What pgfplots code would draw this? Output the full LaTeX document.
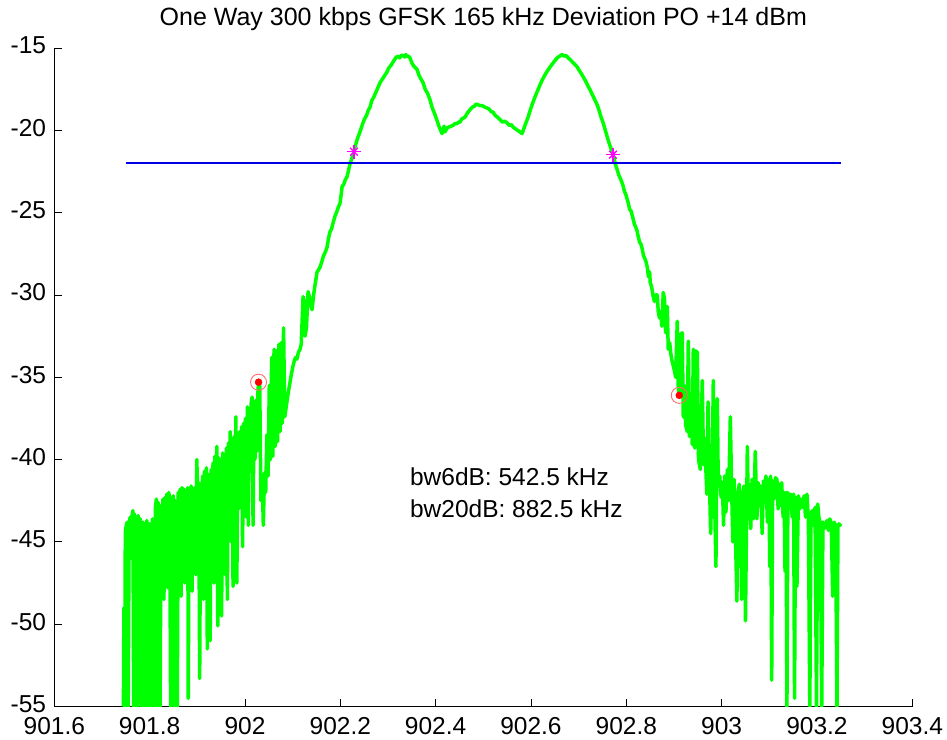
\documentclass[border=0pt]{standalone}
\usepackage{fontspec}
\setmainfont{Liberation Sans}
\usepackage{pgfplots}
\pgfplotsset{compat=1.18}
\definecolor{mgreen}{RGB}{0,255,0}
\definecolor{mblue}{RGB}{0,0,230}
\definecolor{mmag}{RGB}{255,0,255}
\definecolor{mred}{RGB}{255,0,0}
\definecolor{mlred}{RGB}{255,110,110}
\newcommand{\lbl}{\fontsize{24.5bp}{29bp}\selectfont}
\begin{document}
\lbl
\begin{tikzpicture}
\begin{axis}[
  scale only axis, width=858bp, height=658.5bp,
  xmin=901.6, xmax=903.4, ymin=-55, ymax=-15,
  axis x line*=bottom, axis y line*=left,
  axis line style={black, line width=0.8bp},
  tick style={black, line width=0.8bp},
  tick align=inside, major tick length=8bp,
  xtick={901.6,901.8,902,902.2,902.4,902.6,902.8,903,903.2,903.4},
  xticklabels={901.6,901.8,902,902.2,902.4,902.6,902.8,903,903.2,903.4},
  ytick={-55,-50,-45,-40,-35,-30,-25,-20,-15},
  yticklabels={-55,-50,-45,-40,-35,-30,-25,-20,-15},
  ticklabel style={font=\lbl},
  xticklabel style={inner sep=0pt, yshift=-11bp},
  yticklabel style={inner sep=0pt, xshift=-8bp, yshift=2.5bp},
  title={One Way 300 kbps GFSK 165 kHz Deviation PO +14 dBm},
  title style={at={(0.5,1)}, anchor=base, yshift=17bp, inner sep=0pt, font=\fontsize{25bp}{29bp}\selectfont},
]
\addplot[mgreen, line width=3.5bp, line join=round] coordinates {
(901.745,-55) (901.746,-49.0) (901.7475,-55) (901.749,-44.4) (901.751,-44.0) (901.753,-43.8) (901.755,-55) (901.757,-44.2)
(901.759,-43.5) (901.761,-46.0) (901.763,-43.4) (901.765,-43.1) (901.7665,-55) (901.768,-43.3) (901.770,-44.8) (901.772,-43.5)
(901.774,-55) (901.776,-43.4) (901.778,-47.5) (901.780,-43.6) (901.782,-55) (901.784,-45.0) (901.786,-43.8) (901.788,-55)
(901.790,-44.0) (901.792,-47.0) (901.794,-43.7) (901.796,-55) (901.798,-44.5) (901.800,-43.9) (901.802,-55) (901.804,-45.5)
(901.806,-43.6) (901.808,-49.0) (901.810,-55) (901.812,-43.0) (901.814,-42.4) (901.816,-55) (901.818,-42.6) (901.820,-47.0)
(901.822,-55) (901.824,-42.8) (901.826,-45.5) (901.828,-42.4) (901.830,-48.5) (901.832,-42.3) (901.834,-44.0) (901.836,-42.1)
(901.838,-47.8) (901.840,-42.0) (901.842,-42.3) (901.844,-55) (901.846,-43.0) (901.848,-48.0) (901.850,-42.2) (901.852,-55)
(901.854,-42.5) (901.856,-47.0) (901.858,-55) (901.860,-42.0) (901.862,-44.5) (901.864,-41.8) (901.866,-48.3) (901.868,-41.7)
(901.870,-43.5) (901.872,-41.8) (901.874,-47.5) (901.876,-41.9) (901.878,-44.0) (901.880,-41.7) (901.881,-54.5) (901.883,-42.3)
(901.885,-46.5) (901.887,-41.6) (901.889,-48.0) (901.891,-41.8) (901.893,-44.5) (901.895,-41.7) (901.897,-47.0) (901.899,-40.0)
(901.901,-42.5) (901.903,-41.4) (901.905,-53.3) (901.907,-41.6) (901.909,-46.0) (901.911,-41.0) (901.913,-48.5) (901.915,-40.7)
(901.917,-43.5) (901.919,-40.5) (901.921,-51.5) (901.923,-40.9) (901.925,-45.0) (901.927,-51.0) (901.929,-40.6) (901.931,-44.0)
(901.933,-40.2) (901.935,-47.5) (901.937,-39.8) (901.939,-42.5) (901.941,-39.2) (901.943,-50.1) (901.945,-39.9) (901.947,-44.5)
(901.949,-40.0) (901.951,-49.5) (901.953,-39.6) (901.955,-43.5) (901.957,-40.1) (901.959,-47.0) (901.961,-39.3) (901.963,-48.5)
(901.965,-39.0) (901.967,-42.5) (901.969,-38.3) (901.971,-45.0) (901.973,-39.0) (901.975,-47.7) (901.977,-38.6) (901.979,-42.0)
(901.981,-37.4) (901.983,-47.5) (901.985,-38.5) (901.987,-43.0) (901.989,-38.3) (901.991,-41.5) (901.993,-38.0) (901.995,-45.3)
(901.997,-37.8) (901.999,-41.0) (902.001,-37.5) (902.003,-43.5) (902.005,-36.8) (902.007,-44.0) (902.009,-37.2) (902.011,-40.5)
(902.013,-36.6) (902.015,-36.2) (902.017,-44.0) (902.019,-37.0) (902.021,-40.0) (902.023,-36.4) (902.025,-39.5) (902.027,-36.0)
(902.0285,-35.3) (902.031,-35.5) (902.0335,-42.5) (902.036,-41.0) (902.0385,-44.0) (902.041,-40.8) (902.0435,-42.0) (902.046,-38.5)
(902.0485,-41.0) (902.051,-35.5) (902.0535,-40.0) (902.056,-33.8) (902.0585,-39.8) (902.061,-33.3) (902.0635,-39.2) (902.066,-33.4)
(902.0685,-38.9) (902.071,-33.0) (902.0735,-38.3) (902.076,-32.9) (902.0785,-37.8) (902.081,-32.0) (902.0835,-37.4) (902.086,-36.9)
(902.0885,-36.4) (902.0910,-35.9) (902.0946,-35.3) (902.0975,-34.8) (902.1009,-34.3) (902.1035,-34.0) (902.106,-33.8) (902.109,-33.9)
(902.112,-33.5) (902.1156,-33.3) (902.118,-33.0) (902.1219,-30.1) (902.124,-30.4) (902.1261,-32.5) (902.129,-32.0) (902.1324,-29.8)
(902.135,-30.1) (902.138,-30.6) (902.1408,-30.9) (902.144,-30.0) (902.147,-29.4) (902.1513,-28.6) (902.154,-28.5) (902.1576,-28.3)
(902.161,-28.0) (902.165,-27.6) (902.1685,-27.4) (902.1723,-27.1) (902.175,-26.6) (902.178,-26.2) (902.1815,-26.0) (902.1851,-25.6)
(902.189,-25.2) (902.192,-25.0) (902.1955,-24.7) (902.1997,-24.4) (902.2039,-23.4) (902.207,-23.3) (902.2105,-23.0) (902.2144,-22.8)
(902.2175,-22.4) (902.2207,-22.0) (902.2245,-21.7) (902.2287,-21.3) (902.232,-20.9) (902.236,-20.5) (902.240,-20.2) (902.2435,-19.9)
(902.2476,-19.55) (902.251,-19.3) (902.255,-19.1) (902.2585,-18.8) (902.2623,-18.6) (902.266,-18.2) (902.270,-18.0) (902.2745,-17.7)
(902.2791,-17.4) (902.2835,-17.1) (902.288,-16.9) (902.2925,-16.7) (902.2980,-16.45) (902.302,-16.2) (902.3065,-16.05) (902.3106,-15.85)
(902.314,-15.7) (902.3175,-15.55) (902.3211,-15.5) (902.3245,-15.6) (902.328,-15.45) (902.3315,-15.45) (902.335,-15.55) (902.3375,-15.4)
(902.3399,-15.5) (902.343,-15.5) (902.3462,-15.6) (902.350,-15.9) (902.354,-16.1) (902.3575,-16.2) (902.3609,-16.3) (902.365,-16.65)
(902.3695,-16.9) (902.3735,-17.1) (902.378,-17.5) (902.383,-17.75) (902.3882,-18.15) (902.3925,-18.6) (902.398,-19.0) (902.4029,-19.4)
(902.4075,-19.8) (902.4134,-20.2) (902.4155,-20.0) (902.4176,-19.75) (902.4197,-20.1) (902.4239,-19.85) (902.428,-19.8) (902.4325,-19.75)
(902.4365,-19.7) (902.440,-19.6) (902.4445,-19.6) (902.448,-19.5) (902.4512,-19.5) (902.455,-19.3) (902.4585,-19.25) (902.4617,-19.2)
(902.4665,-18.95) (902.4722,-18.75) (902.4765,-18.6) (902.481,-18.55) (902.485,-18.4) (902.4890,-18.45) (902.4935,-18.5) (902.498,-18.5)
(902.5035,-18.6) (902.5079,-18.65) (902.512,-18.7) (902.516,-18.85) (902.5205,-18.9) (902.525,-19.1) (902.530,-19.2) (902.5352,-19.35)
(902.540,-19.5) (902.545,-19.45) (902.5499,-19.55) (902.5545,-19.7) (902.5585,-19.65) (902.5625,-19.8) (902.567,-19.9) (902.572,-20.0)
(902.577,-20.1) (902.5814,-20.2) (902.5875,-19.7) (902.5940,-19.2) (902.601,-18.55) (902.6087,-17.95) (902.616,-17.45) (902.6234,-16.95)
(902.632,-16.5) (902.6402,-16.15) (902.648,-15.85) (902.6549,-15.6) (902.660,-15.5) (902.6654,-15.4) (902.6695,-15.5) (902.673,-15.45)
(902.6780,-15.6) (902.682,-15.7) (902.687,-15.85) (902.692,-16.0) (902.6969,-16.15) (902.7010,-16.35) (902.7055,-16.55) (902.7095,-16.75)
(902.7145,-17.0) (902.7195,-17.3) (902.7242,-17.55) (902.729,-17.85) (902.734,-18.15) (902.7389,-18.45) (902.743,-18.8) (902.747,-19.2)
(902.7515,-19.55) (902.755,-19.9) (902.7585,-20.25) (902.7620,-20.6) (902.7655,-20.9) (902.769,-21.2) (902.7725,-21.5) (902.775,-21.8)
(902.7775,-22.1) (902.7809,-22.4) (902.784,-22.7) (902.787,-22.9) (902.790,-23.1) (902.7935,-23.4) (902.796,-23.7) (902.799,-23.9)
(902.801,-24.1) (902.804,-24.4) (902.807,-24.8) (902.810,-24.9) (902.8145,-25.4) (902.817,-25.7) (902.820,-25.9) (902.8225,-26.1)
(902.825,-26.45) (902.828,-26.8) (902.8305,-26.9) (902.8334,-27.2) (902.836,-27.6) (902.839,-27.8) (902.8415,-28.0) (902.8439,-28.3)
(902.8465,-28.9) (902.849,-28.6) (902.8502,-29.25) (902.853,-29.5) (902.8565,-30.1) (902.859,-30.4) (902.8615,-30.0) (902.8649,-30.0)
(902.867,-31.0) (902.8695,-31.4) (902.872,-31.0) (902.8745,-31.9) (902.8775,-29.85) (902.880,-30.2) (902.8825,-32.3) (902.8859,-30.7)
(902.888,-33.3) (902.891,-32.9) (902.8935,-33.6) (902.896,-34.0) (902.8985,-34.3) (902.901,-34.6) (902.9035,-35.0) (902.9069,-31.6)
(902.909,-35.6) (902.9111,-36.1) (902.9135,-32.4) (902.9174,-32.3) (902.9195,-37.4) (902.922,-35.5) (902.9245,-37.9) (902.9279,-38.3)
(902.930,-32.8) (902.9325,-38.6) (902.935,-36.0) (902.9384,-39.1) (902.9405,-33.3) (902.9435,-39.3) (902.946,-33.4) (902.949,-33.5)
(902.9515,-40.0) (902.9552,-40.6) (902.9594,-35.2) (902.962,-40.3) (902.9645,-38.7) (902.9661,-40.0) (902.969,-42.1) (902.9715,-36.5)
(902.974,-40.8) (902.977,-44.5) (902.9808,-39.4) (902.9825,-35.2) (902.985,-42.0) (902.988,-46.5) (902.9909,-36.3) (902.993,-41.6)
(902.996,-41.0) (902.999,-42.3) (903.0015,-41.4) (903.004,-44.0) (903.0065,-41.0) (903.009,-43.2) (903.012,-40.6) (903.0145,-42.5)
(903.0182,-37.4) (903.021,-41.8) (903.0235,-45.0) (903.026,-41.2) (903.029,-44.5) (903.032,-48.6) (903.0345,-42.0) (903.037,-41.5)
(903.040,-44.0) (903.042,-48.5) (903.0445,-42.2) (903.047,-41.6) (903.050,-49.8) (903.0539,-39.2) (903.056,-43.0) (903.0585,-41.5)
(903.061,-44.2) (903.064,-41.2) (903.067,-43.6) (903.0706,-39.5) (903.074,-43.6) (903.0765,-41.4) (903.079,-42.8) (903.082,-41.6)
(903.085,-44.5) (903.0875,-41.3) (903.090,-42.6) (903.093,-41.0) (903.096,-43.8) (903.099,-41.2) (903.101,-46.5) (903.103,-41.0)
(903.105,-53.4) (903.107,-41.3) (903.110,-42.4) (903.113,-41.1) (903.116,-41.2) (903.1185,-43.0) (903.121,-41.5) (903.124,-42.8)
(903.126,-41.4) (903.129,-43.5) (903.131,-42.0) (903.133,-46.8) (903.135,-42.0) (903.137,-55) (903.139,-42.0) (903.142,-42.8)
(903.145,-42.1) (903.148,-43.5) (903.151,-42.1) (903.153,-54.5) (903.155,-42.3) (903.158,-47.7) (903.161,-42.2) (903.164,-43.0)
(903.167,-42.4) (903.170,-42.9) (903.173,-42.2) (903.176,-43.5) (903.179,-42.1) (903.182,-43.7) (903.185,-55) (903.1875,-43.3)
(903.190,-43.1) (903.193,-44.0) (903.196,-42.9) (903.199,-55) (903.2015,-42.7) (903.204,-43.5) (903.207,-43.9) (903.210,-55)
(903.2125,-43.8) (903.215,-44.2) (903.218,-44.0) (903.221,-43.7) (903.224,-44.3) (903.227,-43.6) (903.230,-43.9) (903.233,-48.3)
(903.236,-43.8) (903.239,-44.0) (903.242,-55) (903.244,-44.1) (903.246,-43.9) (903.248,-44.0) (903.25,-43.9)
};
\addplot[mblue, line width=1.6bp] coordinates {(901.75,-21.97) (903.25,-21.97)};
\addplot[only marks, mark=+, mark size=7bp, mmag, line width=1.3bp] coordinates {(902.2287,-21.3) (902.7720,-21.48)};
\addplot[only marks, mark=x, mark size=5.5bp, mmag, line width=1.3bp] coordinates {(902.2287,-21.3) (902.7720,-21.48)};
\addplot[only marks, mark=o, mark size=8bp, mlred, line width=0.9bp] coordinates {(902.0285,-35.3) (902.9111,-36.1)};
\addplot[only marks, mark=*, mark size=3.5bp, mred, mark options={draw=mred, fill=mred}] coordinates {(902.0285,-35.3) (902.9111,-36.1)};
\node[anchor=base west, inner sep=0pt, font=\lbl] at (axis cs:902.346,-41.59) {bw6dB: 542.5 kHz};
\node[anchor=base west, inner sep=0pt, font=\lbl] at (axis cs:902.346,-43.53) {bw20dB: 882.5 kHz};
\end{axis}
\pgfresetboundingbox
\path[use as bounding box] (-54.3bp,-33.5bp) rectangle (892.7bp,706.5bp);
\end{tikzpicture}
\end{document}
